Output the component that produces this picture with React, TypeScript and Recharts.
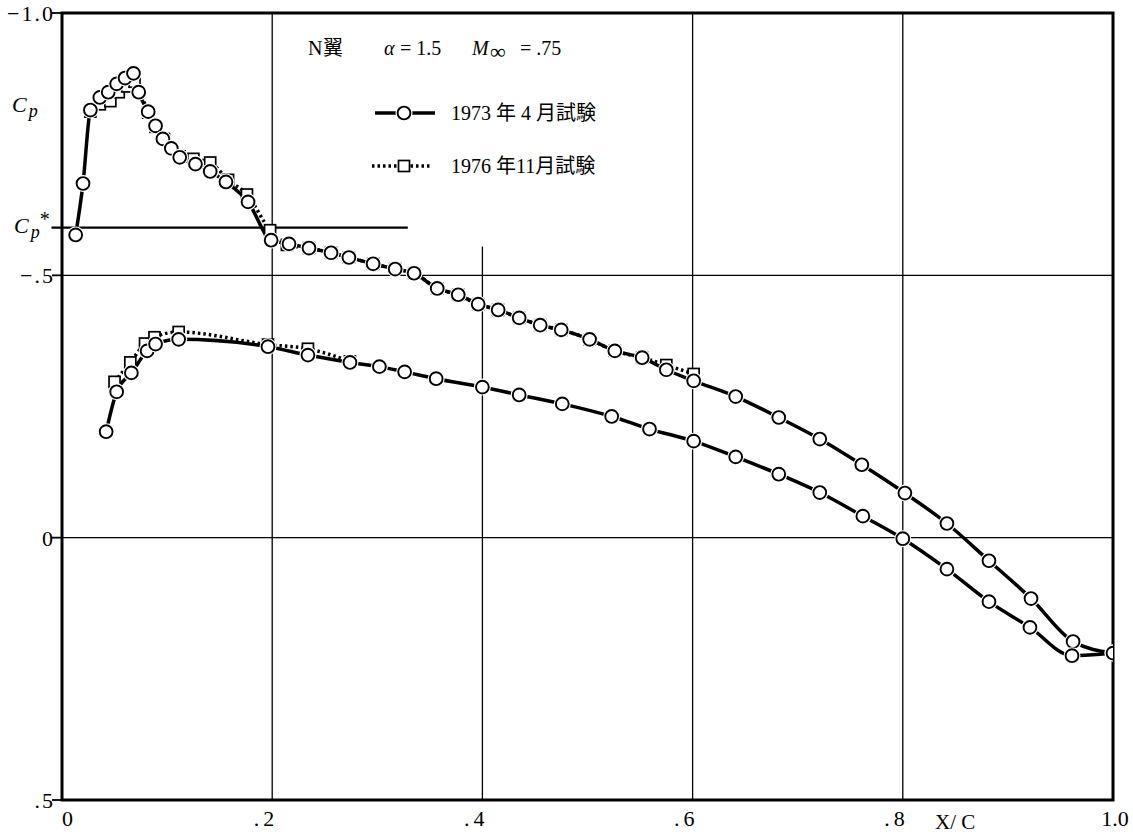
import React from 'react'
import { LineChart, Line, XAxis, YAxis, ReferenceLine, ReferenceArea } from 'recharts'

// 1973 test, upper surface
const upperX1973 = [
    0.013, 0.020, 0.027, 0.036, 0.044, 0.052, 0.060, 0.068, 0.073, 0.082,
    0.089, 0.096, 0.104, 0.112, 0.127, 0.141, 0.156, 0.177, 0.199, 0.216,
    0.235, 0.256, 0.273, 0.296, 0.317, 0.335, 0.357, 0.377, 0.396, 0.415,
    0.435, 0.455, 0.475, 0.502, 0.526, 0.552, 0.575, 0.601, 0.641, 0.682,
    0.721, 0.761, 0.802, 0.842, 0.882, 0.922, 0.962, 1.0
]
const upperCp1973 = [
    -0.577, -0.675, -0.815, -0.839, -0.849, -0.865, -0.876, -0.885, -0.849, -0.812,
    -0.785, -0.760, -0.742, -0.725, -0.712, -0.698, -0.678, -0.640, -0.567, -0.560,
    -0.552, -0.543, -0.534, -0.522, -0.512, -0.504, -0.475, -0.463, -0.445, -0.434,
    -0.419, -0.405, -0.396, -0.378, -0.356, -0.343, -0.320, -0.299, -0.269, -0.229,
    -0.188, -0.139, -0.085, -0.027, 0.044, 0.116, 0.198, 0.220
]

// 1973 test, lower surface
const lowerX1973 = [
    0.042, 0.052, 0.066, 0.081, 0.089, 0.111, 0.196, 0.234, 0.274, 0.302,
    0.326, 0.356, 0.400, 0.435, 0.476, 0.523, 0.559, 0.601, 0.641, 0.682,
    0.721, 0.762, 0.800, 0.842, 0.882, 0.921, 0.961, 1.0
]
const lowerCp1973 = [
    -0.202, -0.278, -0.314, -0.356, -0.369, -0.378, -0.364, -0.348, -0.334, -0.326,
    -0.316, -0.303, -0.287, -0.272, -0.255, -0.231, -0.207, -0.184, -0.154, -0.121,
    -0.086, -0.041, 0.002, 0.060, 0.122, 0.171, 0.225, 0.220
]

// 1976 test, upper surface
const upperX1976 = [
    0.027, 0.036, 0.046, 0.054, 0.062, 0.069, 0.082, 0.089, 0.097, 0.112,
    0.125, 0.141, 0.158, 0.176, 0.198, 0.214, 0.235, 0.256, 0.273, 0.296,
    0.317, 0.335, 0.357, 0.377, 0.396, 0.415, 0.435, 0.455, 0.475, 0.502,
    0.526, 0.552, 0.575, 0.601
]
const upperCp1976 = [
    -0.812, -0.826, -0.832, -0.849, -0.860, -0.869, -0.810, -0.783, -0.760, -0.727,
    -0.722, -0.715, -0.682, -0.654, -0.586, -0.558, -0.552, -0.543, -0.534, -0.522,
    -0.512, -0.504, -0.475, -0.463, -0.445, -0.434, -0.419, -0.405, -0.396, -0.378,
    -0.356, -0.343, -0.329, -0.312
]

// 1976 test, lower surface
const lowerX1976 = [0.050, 0.065, 0.079, 0.088, 0.111, 0.196, 0.234, 0.274]
const lowerCp1976 = [-0.297, -0.334, -0.370, -0.382, -0.392, -0.368, -0.360, -0.336]

const xTicks = [0, 0.2, 0.4, 0.6, 0.8, 1.0]
const xTickLabels = ['0', '.2', '.4', '.6', '.8', '1.0']
const yTicks = [-1.0, -0.5, 0, 0.5]
const yTickLabels = ['\u22121.0', '\u2212.5', '0', '.5']

const CP_STAR = -0.591

const toPoints = (xs: number[], cps: number[]) => xs.map((x, i) => ({ x, cp: cps[i] }))

const upper1973 = toPoints(upperX1973, upperCp1973)
const lower1973 = toPoints(lowerX1973, lowerCp1973)
const upper1976 = toPoints(upperX1976, upperCp1976)
const lower1976 = toPoints(lowerX1976, lowerCp1976)

const SERIF = '"Liberation Serif", "DejaVu Serif", serif'
const JP = '"Liberation Serif", "Noto Sans CJK JP", serif'

const circleDot = (props: any) => {
    const { cx, cy, index } = props
    if (cx == null || cy == null) return <g key={`c-${index}`} />
    return (
        <g key={`c-${index}`}>
            <circle cx={cx} cy={cy} r={8.5} fill="#fff" />
            <circle cx={cx} cy={cy} r={6.4} fill="#fff" stroke="#000" strokeWidth={1.9} />
        </g>
    )
}

const squareDot = (props: any) => {
    const { cx, cy, index } = props
    if (cx == null || cy == null) return <g key={`s-${index}`} />
    return (
        <rect key={`s-${index}`} x={cx - 5.5} y={cy - 5.5} width={11} height={11}
            fill="#fff" stroke="#000" strokeWidth={1.7} />
    )
}

const XTick = (props: any) => {
    const { x, payload } = props
    const i = xTicks.indexOf(payload.value)
    const label = xTickLabels[i] ?? ''
    const last = i === xTicks.length - 1
    const anchor = i === 0 ? 'start' : last ? 'middle' : 'end'
    const tx = i === 0 ? x : last ? x + 2 : x + 6
    return (
        <text x={tx} y={826} textAnchor={anchor} fontFamily={SERIF} fontSize={22}
            letterSpacing={i === 0 || last ? 0 : 4} fill="#000">
            {label}
        </text>
    )
}

const YTick = (props: any) => {
    const { y, payload } = props
    const i = yTicks.indexOf(payload.value)
    return (
        <g>
            <line x1={52} x2={62} y1={y} y2={y} stroke="#000" strokeWidth={1.8} />
            <text x={55} y={y + 8} textAnchor="end" fontFamily={SERIF} fontSize={22}
                letterSpacing={2} fill="#000">
                {yTickLabels[i] ?? ''}
            </text>
        </g>
    )
}

function Annotations() {
    return (
        <svg width={1133} height={834}
            style={{ position: 'absolute', left: 0, top: 0, pointerEvents: 'none' }}>
            {/* axis symbols */}
            <text x={12} y={112} fontFamily={SERIF} fontSize={22} fontStyle="italic">
                C<tspan dx={2} dy={5} fontSize={18}>p</tspan>
            </text>
            <text x={14} y={233} fontFamily={SERIF} fontSize={22} fontStyle="italic">
                C<tspan dx={2} dy={5} fontSize={18}>p</tspan>
                <tspan dy={-12} fontSize={20} fontStyle="normal">*</tspan>
            </text>
            <text x={935} y={829} fontFamily={SERIF} fontSize={21}>X/ C</text>

            {/* title */}
            <text y={55} fontFamily={JP} fontSize={20}>
                <tspan x={308}>N</tspan>
                <tspan x={323}>翼</tspan>
                <tspan x={384} fontStyle="italic">α</tspan>
                <tspan x={400}>= 1.5</tspan>
                <tspan x={472} fontStyle="italic">M</tspan>
                <tspan x={490} dy={4} fontSize={22}>∞</tspan>
                <tspan x={520} dy={-4}>= .75</tspan>
            </text>

            {/* legend: 1973 */}
            <line x1={375} y1={113} x2={435} y2={113} stroke="#000" strokeWidth={3.5} />
            <circle cx={404} cy={113} r={8.5} fill="#fff" />
            <circle cx={404} cy={113} r={6.4} fill="#fff" stroke="#000" strokeWidth={1.9} />
            <text x={451} y={120} fontFamily={JP} fontSize={20}>1973 年 4 月試験</text>

            {/* legend: 1976 */}
            <line x1={372} y1={166} x2={432} y2={166} stroke="#000" strokeWidth={3.5}
                strokeDasharray="2.5 3" />
            <rect x={398.5} y={160.5} width={11} height={11} fill="#fff" stroke="#000" strokeWidth={1.7} />
            <text x={451} y={173} fontFamily={JP} fontSize={20}>1976 年11月試験</text>
        </svg>
    )
}

export default function App() {
    return (
        <div style={{ position: 'absolute', left: 0, top: 0, width: 1133, height: 834, background: '#fff' }}>
            <LineChart width={1133} height={834} margin={{ top: 13, right: 20, bottom: 4, left: 0 }}>
                <XAxis
                    dataKey="x"
                    type="number"
                    domain={[0, 1]}
                    ticks={xTicks}
                    allowDataOverflow
                    axisLine={false}
                    tickLine={false}
                    height={30}
                    tick={<XTick />}
                />
                <YAxis
                    type="number"
                    domain={[-1, 0.5]}
                    ticks={yTicks}
                    reversed
                    allowDataOverflow
                    axisLine={false}
                    tickLine={false}
                    width={62}
                    tick={<YTick />}
                />

                {/* grid */}
                <ReferenceLine y={-0.5} stroke="#000" strokeWidth={1.3} />
                <ReferenceLine y={0} stroke="#000" strokeWidth={1.3} />
                <ReferenceLine x={0.2} stroke="#000" strokeWidth={1.3} />
                <ReferenceLine segment={[{ x: 0.4, y: -0.555 }, { x: 0.4, y: 0.5 }]} stroke="#000" strokeWidth={1.3} />
                <ReferenceLine x={0.6} stroke="#000" strokeWidth={1.3} />
                <ReferenceLine x={0.8} stroke="#000" strokeWidth={1.3} />

                {/* sonic Cp* */}
                <ReferenceLine
                    segment={[{ x: -0.01, y: CP_STAR }, { x: 0.329, y: CP_STAR }]}
                    stroke="#000"
                    strokeWidth={2.2}
                    ifOverflow="visible"
                />

                <ReferenceArea x1={0} x2={1} y1={-1} y2={0.5} fill="none" stroke="#000" strokeWidth={3} ifOverflow="visible" />

                <Line data={upper1976} dataKey="cp" type="monotone" stroke="#000" strokeWidth={3.5}
                    strokeDasharray="2.5 3" dot={squareDot} activeDot={false} isAnimationActive={false} />
                <Line data={lower1976} dataKey="cp" type="monotone" stroke="#000" strokeWidth={3.5}
                    strokeDasharray="2.5 3" dot={squareDot} activeDot={false} isAnimationActive={false} />
                <Line data={upper1973} dataKey="cp" type="monotone" stroke="#000" strokeWidth={3.5}
                    dot={circleDot} activeDot={false} isAnimationActive={false} />
                <Line data={lower1973} dataKey="cp" type="monotone" stroke="#000" strokeWidth={3.5}
                    dot={circleDot} activeDot={false} isAnimationActive={false} />
            </LineChart>
            <Annotations />
        </div>
    )
}
